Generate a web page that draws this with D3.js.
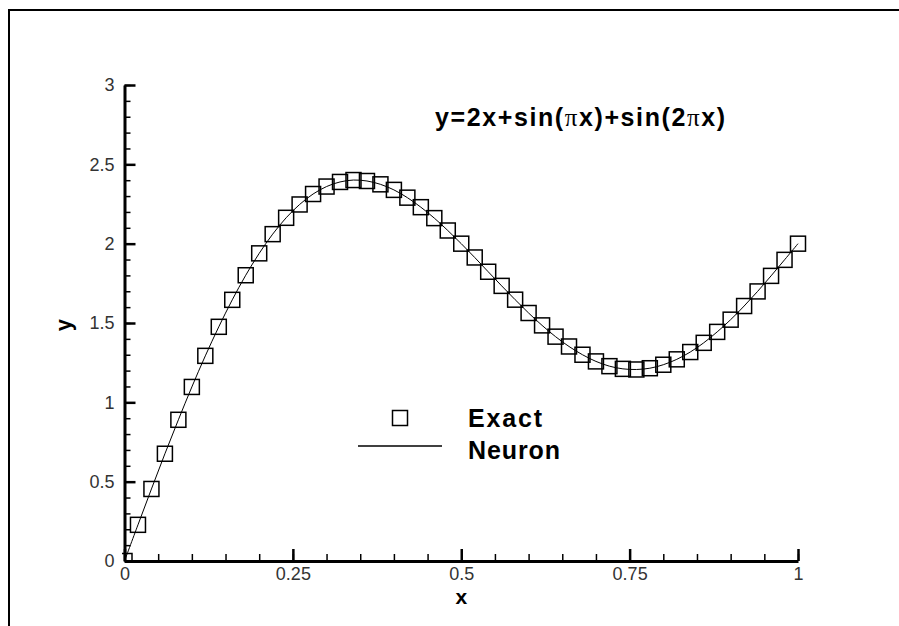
<!DOCTYPE html>
<html>
<head>
<meta charset="utf-8">
<script src="https://cdn.jsdelivr.net/npm/d3@7"></script>
<style>
body{margin:0;background:#fff;}
</style>
</head>
<body>
<script>
// x samples of the "Exact" squares
var xValues=[0,0.02,0.04,0.06,0.08,0.1,0.12,0.14,0.16,0.18,0.2,0.22,0.24,0.26,0.28,0.3,0.32,0.34,0.36,0.38,0.4,
  0.42,0.44,0.46,0.48,0.5,0.52,0.54,0.56,0.58,0.6,0.62,0.64,0.66,0.68,0.7,0.72,0.74,0.76,0.78,0.8,
  0.82,0.84,0.86,0.88,0.9,0.92,0.94,0.96,0.98,1];
var exactY=[0,0.228,0.454,0.676,0.890,1.097,1.293,1.476,1.646,1.801,1.939,2.060,2.163,2.247,2.313,2.360,2.389,2.401,2.395,2.374,2.339,
  2.290,2.230,2.161,2.083,2.000,1.913,1.823,1.734,1.647,1.563,1.485,1.414,1.352,1.300,1.258,1.228,1.211,1.207,1.215,1.237,
  1.271,1.317,1.375,1.444,1.521,1.607,1.699,1.797,1.898,2.000];
var neuronY=exactY.slice();
var xTicks=[0,0.25,0.5,0.75,1];
var xTickLabels=["0","0.25","0.5","0.75","1"];
var yTicks=[0,0.5,1,1.5,2,2.5,3];
var yTickLabels=["0","0.5","1","1.5","2","2.5","3"];

var drawChart=function()
{
  var width=899;
  var height=626;
  var font="'Liberation Sans', Arial, sans-serif";
  var svg=d3.select("body").append("svg")
            .attr("width",width)
            .attr("height",height)
            .style("display","block");

  // outer frame (only top and left show in the window)
  svg.append("path")
     .attr("d","M9,"+height+"V10H"+width)
     .attr("fill","none")
     .attr("stroke","#000")
     .attr("stroke-width",2);

  var x=d3.scaleLinear().domain([0,1]).range([124.5,798]);
  var y=d3.scaleLinear().domain([0,3]).range([561,85]);

  svg.append("clipPath")
     .attr("id","plotclip")
     .append("rect")
     .attr("x",122).attr("y",0)
     .attr("width",width-122).attr("height",561);

  var line=d3.line()
             .x(function(d,i){ return x(xValues[i]); })
             .y(function(d){ return y(d); })
             .curve(d3.curveCatmullRom);

  svg.append("path")
     .datum(neuronY)
     .attr("d",line)
     .attr("fill","none")
     .attr("stroke","#000")
     .attr("stroke-width",1);

  var s=15;
  svg.append("g")
     .attr("clip-path","url(#plotclip)")
     .selectAll("rect")
     .data(exactY)
     .enter()
     .append("rect")
     .attr("x",function(d,i){ return x(xValues[i])-s/2; })
     .attr("y",function(d){ return y(d)-s/2; })
     .attr("width",s)
     .attr("height",s)
     .attr("fill","none")
     .attr("stroke","#000")
     .attr("stroke-width",1.5);

  // minor ticks
  svg.append("g")
     .attr("transform","translate(0,561)")
     .call(d3.axisBottom(x).tickValues(d3.range(0,1.0001,0.05)).tickSizeInner(-7).tickSizeOuter(0).tickFormat(""))
     .call(function(g){ g.select(".domain").remove(); g.selectAll("line").attr("stroke-width",1.5); });
  svg.append("g")
     .attr("transform","translate(124.5,0)")
     .call(d3.axisLeft(y).tickValues(d3.range(0,3.0001,0.1)).tickSizeInner(-6).tickSizeOuter(0).tickFormat(""))
     .call(function(g){ g.select(".domain").remove(); g.selectAll("line").attr("stroke-width",1.5); });

  // major axes
  var xAxis=svg.append("g")
     .attr("transform","translate(0,561)")
     .call(d3.axisBottom(x).tickValues(xTicks).tickSizeInner(-12).tickSizeOuter(0).tickPadding(6)
             .tickFormat(function(d,i){ return xTickLabels[i]; }));
  var yAxis=svg.append("g")
     .attr("transform","translate(124.5,0)")
     .call(d3.axisLeft(y).tickValues(yTicks).tickSizeInner(-11).tickSizeOuter(0).tickPadding(10)
             .tickFormat(function(d,i){ return yTickLabels[i]; }));
  [xAxis,yAxis].forEach(function(g){
    g.select(".domain").attr("stroke-width",3).attr("stroke","#000");
    g.selectAll("line").attr("stroke-width",2.5).attr("stroke","#000");
    g.selectAll("text")
     .attr("fill","#333")
     .attr("font-size",18)
     .attr("font-family",font);
  });

  // axis titles
  svg.append("text")
     .text("x")
     .attr("x",x(0.5))
     .attr("y",604)
     .attr("text-anchor","middle")
     .attr("font-size",21)
     .attr("font-weight","bold")
     .attr("font-family",font);
  svg.append("text")
     .text("y")
     .attr("transform","translate(71,325) rotate(-90)")
     .attr("text-anchor","middle")
     .attr("font-size",22)
     .attr("font-weight","bold")
     .attr("font-family",font);

  // equation label
  var title=svg.append("text")
     .attr("x",435)
     .attr("y",126)
     .attr("textLength",290)
     .attr("lengthAdjust","spacing")
     .attr("font-size",25)
     .attr("font-weight","bold")
     .attr("font-family",font);
  var parts=[["y=2x+sin(",false],["\u03c0",true],["x)+sin(2",false],["\u03c0",true],["x)",false]];
  parts.forEach(function(p){
    var t=title.append("tspan").text(p[0]);
    if(p[1]) t.attr("font-family","'Liberation Serif', serif").attr("font-weight","normal");
  });

  // legend
  var legend=svg.append("g");
  legend.append("rect")
        .attr("x",392.5).attr("y",410.5)
        .attr("width",15).attr("height",15)
        .attr("fill","none")
        .attr("stroke","#000")
        .attr("stroke-width",1.5);
  legend.append("line")
        .attr("x1",358).attr("x2",442)
        .attr("y1",446).attr("y2",446)
        .attr("stroke","#000")
        .attr("stroke-width",1.5);
  legend.selectAll("text")
        .data(["Exact","Neuron"])
        .enter()
        .append("text")
        .text(function(d){ return d; })
        .attr("x",468)
        .attr("y",function(d,i){ return 427+i*32; })
        .attr("textLength",function(d,i){ return i==0?74:92; })
        .attr("lengthAdjust","spacing")
        .attr("font-size",25)
        .attr("font-weight","bold")
        .attr("font-family",font);
}
drawChart();
</script>
</body>
</html>
